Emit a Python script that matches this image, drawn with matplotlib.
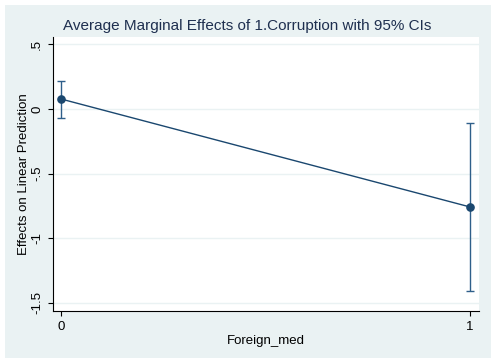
import matplotlib.pyplot as plt
from matplotlib.patches import Rectangle

plt.rcParams['font.family'] = ['Liberation Sans', 'DejaVu Sans']

# data
x_vals = [0, 1]
margins = [0.077, -0.758]
ci_low = [-0.07, -1.41]
ci_high = [0.217, -0.108]
xticks = [0, 1]
yticks = [0.5, 0, -0.5, -1, -1.5]
ytick_labels = ['.5', '0', '-.5', '-1', '-1.5']

W, H = 495, 362
fig = plt.figure(figsize=(W / 100, H / 100), dpi=100)
fig.patch.set_facecolor('white')
bg = Rectangle((5 / W, 4 / H), 486 / W, 353 / H, transform=fig.transFigure,
               facecolor='#eaf2f3', edgecolor='none', zorder=-5)
fig.add_artist(bg)

ax = fig.add_axes([53 / W, 1 - 311 / H, 426 / W, 274 / H])
ax.set_facecolor('white')

navy = '#1a476f'
err_lo = [m - l for m, l in zip(margins, ci_low)]
err_hi = [h - m for m, h in zip(margins, ci_high)]
ax.errorbar(x_vals, margins, yerr=[err_lo, err_hi], fmt='none', ecolor='#2f5f8a',
            elinewidth=1.0, capsize=2.7, capthick=1.0, zorder=3)
ax.plot(x_vals, margins, color=navy, lw=1.0, marker='o', ms=5.2, zorder=4)

ax.set_xlim(-0.02, 1.022)
ax.set_ylim(-1.563, 0.557)
ax.set_xticks(xticks)
ax.set_xticklabels([str(t) for t in xticks])
ax.set_yticks(yticks)
ax.set_yticklabels(ytick_labels, rotation=90, va='center')
for y in yticks:
    ax.axhline(y, color='#eaf2f3', lw=1.0, zorder=1)

for s in ['top', 'right']:
    ax.spines[s].set_visible(False)
for s in ['left', 'bottom']:
    ax.spines[s].set_color('black')
    ax.spines[s].set_linewidth(0.8)
ax.tick_params(axis='both', length=3.6, width=0.8, labelsize=9.5, colors='black', pad=3.5)

ax.set_xlabel('Foreign_med', fontsize=9.5, labelpad=1.5)
ax.set_ylabel('Effects on Linear Prediction', fontsize=9.5, labelpad=1)
fig.text(247 / W, 1 - 26 / H, 'Average Marginal Effects of 1.Corruption with 95% CIs',
         ha='center', va='center', fontsize=11, color='#1e2f4f')

fig.savefig('out.png', dpi=100)
